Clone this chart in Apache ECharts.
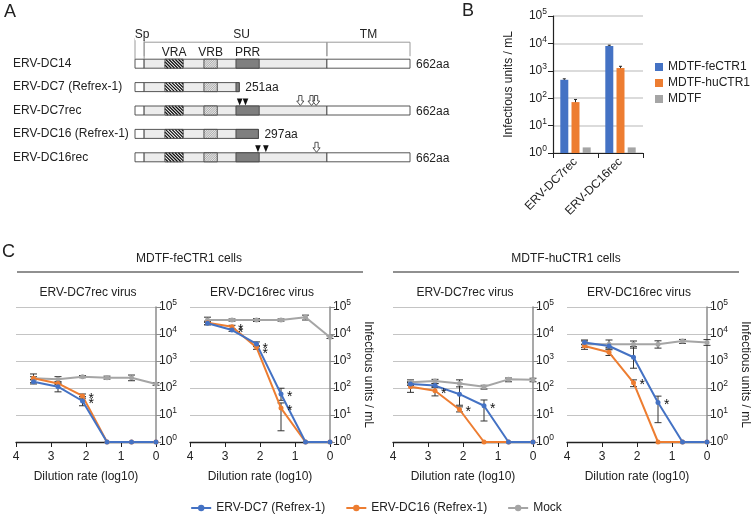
<!DOCTYPE html>
<html><head><meta charset="utf-8">
<script src="https://cdn.jsdelivr.net/npm/echarts@6/dist/echarts.min.js"></script>
<style>html,body{margin:0;padding:0;background:#fff}#c{width:752px;height:515px}</style>
</head><body><div id="c"></div>
<script>
// ================= Panel A data =================
const constructs = ['ERV-DC14', 'ERV-DC7 (Refrex-1)', 'ERV-DC7rec', 'ERV-DC16 (Refrex-1)', 'ERV-DC16rec'];
const constructLengths = [662, 251, 662, 297, 662];
const baseDomainNames = ['Sp', 'SU', 'TM'];
const baseDomainStart = [0, 22, 462];
const baseDomainEnd = [22, 462, 662];
const subDomainNames = ['VRA', 'VRB', 'PRR'];
const subDomainStart = [72, 166, 243];
const subDomainEnd = [116, 198, 299];
const triangleRows = [2, 2, 4, 4];
const trianglePos = [252, 266, 296, 315];
const arrowRows = [2, 2, 2, 4];
const arrowPos = [398, 425, 436, 437];

// ================= Panel B data =================
const bCategories = ['ERV-DC7rec', 'ERV-DC16rec'];
const bSeriesNames = ['MDTF-feCTR1', 'MDTF-huCTR1', 'MDTF'];
const bFeCTR1 = [470, 8100];
const bHuCTR1 = [72, 1260];
const bMDTF = [1.6, 1.6];
const bFeCTR1Err = [[430, 510], [7600, 8600]];
const bHuCTR1Err = [[56, 90], [1080, 1460]];

// ================= Panel C data =================
const dilution = [3.5, 2.8, 2.1, 1.4, 0.7, 0];
const cSeriesNames = ['ERV-DC7 (Refrex-1)', 'ERV-DC16 (Refrex-1)', 'Mock'];
const cGroupTitles = ['MDTF-feCTR1 cells', 'MDTF-huCTR1 cells'];
const cChartTitles = ['ERV-DC7rec virus', 'ERV-DC16rec virus', 'ERV-DC7rec virus', 'ERV-DC16rec virus'];

// chart 1: MDTF-feCTR1, ERV-DC7rec
const c1DC7 = [170, 112, 33, 1, 1, 1];
const c1DC16 = [229, 148, 51, 1, 1, 1];
const c1Mock = [229, 209, 263, 240, 240, 141];
const c1DC7Err = [[141, 209], [72, 148], [22, 48], null, null, null];
const c1DC16Err = [[200, 262], [135, 165], [42, 60], null, null, null];
const c1MockErr = [[158, 331], [170, 263], [240, 288], [214, 275], [186, 302], [126, 158]];
const c1Stars = [[2.1, 51], [2.1, 33]];

// chart 2: MDTF-feCTR1, ERV-DC16rec
const c2DC7 = [25000, 14000, 4300, 60, 1, 1];
const c2DC16 = [26000, 18600, 3200, 18, 1, 1];
const c2Mock = [33000, 33000, 33000, 33000, 42000, 7600];
const c2DC7Err = [[22000, 28000], [12500, 15500], [3400, 5100], [35, 98], null, null];
const c2DC16Err = [[22000, 30000], [15000, 21000], [2700, 3700], [2.6, 28], null, null];
const c2MockErr = [[27000, 42000], [30000, 36000], [29000, 37000], [30000, 36000], [33000, 50000], [6800, 8500]];
const c2Stars = [[2.8, 18600], [2.8, 14000], [2.1, 3700], [2.1, 2400], [1.4, 60], [1.4, 18]];

// chart 3: MDTF-huCTR1, ERV-DC7rec
const c3DC7 = [141, 123, 59, 22, 1, 1];
const c3DC16 = [112, 79, 16, 1, 1, 1];
const c3Mock = [162, 182, 148, 112, 209, 200];
const c3DC7Err = [[125, 160], [105, 145], [23, 148], [6, 36], null, null];
const c3DC16Err = [[69, 170], [51, 112], [13, 20], null, null, null];
const c3MockErr = [[141, 200], [148, 209], [110, 200], [91, 126], [170, 234], [170, 230]];
const c3Stars = [[2.8, 79], [2.1, 16], [1.4, 22]];

// chart 4: MDTF-huCTR1, ERV-DC16rec
const c4DC7 = [4800, 3600, 1380, 29, 1, 1];
const c4DC16 = [3600, 2100, 158, 1, 1, 1];
const c4Mock = [4200, 4200, 4200, 4200, 5500, 4800];
const c4DC7Err = [[4200, 5500], [3200, 4100], [540, 3400], [5.2, 50], null, null];
const c4DC16Err = [[3200, 4000], [1600, 2600], [112, 200], null, null, null];
const c4MockErr = [[2700, 6000], [2800, 6000], [3000, 5500], [3000, 5600], [4500, 6300], [3800, 6200]];
const c4Stars = [[2.1, 158], [1.4, 29]];

// ================= build =================
const FONT = '"Liberation Sans", Arial, sans-serif';
const TXT = '#222';
const FS = 12;
const BLUE = '#4472C4', ORANGE = '#ED7D31', GRAY = '#A5A5A5';
const supFmt = v => '10{s|' + Math.round(Math.log10(v)) + '}';
const supRich = { s: { fontSize: 8.5, padding: [0, 0, 8, 0], fontFamily: FONT, color: TXT } };

const chart = echarts.init(document.getElementById('c'), null, { renderer: 'canvas' });

const grids = [], xAxes = [], yAxes = [], series = [], graphics = [];

// ---- Panel A ----
grids.push({ left: 135, top: 52, width: 275, height: 117, outerBoundsMode: 'none' });
xAxes.push({ gridIndex: 0, type: 'value', min: 0, max: 662, show: false });
yAxes.push({ gridIndex: 0, type: 'category', data: constructs, inverse: true,
  axisLine: { show: false }, axisTick: { show: false }, splitLine: { show: false },
  axisLabel: { align: 'left', margin: 122, fontSize: FS, color: TXT, fontFamily: FONT } });

const kindFill = { Sp: '#ffffff', SU: '#ececec', TM: '#ffffff', VRA: '#ffffff', VRB: '#f2f2f2', PRR: '#7f7f7f' };
const segKinds = [];
const segData = [];
constructs.forEach((n, r) => {
  const L = constructLengths[r];
  baseDomainNames.forEach((d, k) => {
    if (baseDomainStart[k] < L) { segData.push([r, baseDomainStart[k], Math.min(baseDomainEnd[k], L)]); segKinds.push(d); }
  });
  subDomainNames.forEach((d, k) => {
    if (subDomainStart[k] < L) { segData.push([r, subDomainStart[k], Math.min(subDomainEnd[k], L)]); segKinds.push(d); }
  });
});
const BAR_H = 9;
function hatch(x0, x1, y0, y1, step, dir, color, w) {
  const h = y1 - y0, out = [];
  for (let x = x0 - h; x < x1; x += step) {
    let ax, ay, bx, by;
    if (dir > 0) {
      ax = x; ay = y0; bx = x + h; by = y1;
      if (ax < x0) { ay = y0 + (x0 - ax); ax = x0; }
      if (bx > x1) { by = y0 + (x1 - x); bx = x1; }
    } else {
      ax = x; ay = y1; bx = x + h; by = y0;
      if (ax < x0) { ay = y1 - (x0 - ax); ax = x0; }
      if (bx > x1) { by = y1 - (x1 - x); bx = x1; }
    }
    if (bx > ax) out.push({ type: 'line', shape: { x1: ax, y1: ay, x2: bx, y2: by }, style: { stroke: color, lineWidth: w } });
  }
  return out;
}
series.push({ type: 'custom', xAxisIndex: 0, yAxisIndex: 0, clip: false, data: segData,
  encode: { x: [1, 2], y: 0 },
  renderItem: (params, api) => {
    const kind = segKinds[params.dataIndex];
    const r = api.value(0);
    const p0 = api.coord([api.value(1), r]), p1 = api.coord([api.value(2), r]);
    const x0 = p0[0], x1 = p1[0], y0 = p0[1] - BAR_H / 2, y1 = p0[1] + BAR_H / 2;
    let children = [{ type: 'rect', shape: { x: x0, y: y0, width: x1 - x0, height: BAR_H }, style: { fill: kindFill[kind], stroke: 'none' } }];
    if (kind === 'VRA') children = children.concat(hatch(x0, x1, y0, y1, 3.2, 1, '#111', 1.3));
    if (kind === 'VRB') children = children.concat(hatch(x0, x1, y0, y1, 1.8, -1, '#7a7a7a', 0.6));
    children.push({ type: 'rect', shape: { x: x0, y: y0, width: x1 - x0, height: BAR_H }, style: { fill: 'none', stroke: '#444', lineWidth: 0.9 } });
    return { type: 'group', children };
  } });
series.push({ type: 'custom', xAxisIndex: 0, yAxisIndex: 0, clip: false,
  data: constructLengths.map((L, r) => [r, L]), encode: { x: 1, y: 0 },
  renderItem: (params, api) => {
    const p = api.coord([api.value(1), api.value(0)]);
    return { type: 'text', x: p[0] + 6, y: p[1] + 1, style: { text: api.value(1) + 'aa', fontSize: FS, fill: TXT, fontFamily: FONT, align: 'left', verticalAlign: 'middle' } };
  } });
const bracketData = baseDomainNames.map((d, k) => [0, baseDomainStart[k], baseDomainEnd[k], k]);
series.push({ type: 'custom', xAxisIndex: 0, yAxisIndex: 0, clip: false, data: bracketData, encode: { x: [1, 2], y: 0 },
  renderItem: (params, api) => {
    const k = api.value(3);
    const p0 = api.coord([api.value(1), 0]), p1 = api.coord([api.value(2), 0]);
    const barTop = p0[1] - BAR_H / 2;
    const top = barTop - (k === 0 ? 21 : 17);
    const bottom = barTop - (k === 0 ? 0 : 3);
    const lx = k === 0 ? p0[0] + 7 : (k === 1 ? (p0[0] + p1[0]) / 2 + 6 : (p0[0] + p1[0]) / 2);
    const ly = k === 0 ? top + 2 : top - 2;
    return { type: 'group', children: [
      { type: 'polyline', shape: { points: [[p0[0], bottom], [p0[0], top], [p1[0], top], [p1[0], bottom]] }, style: { stroke: '#9a9a9a', lineWidth: 1, fill: 'none' } },
      { type: 'text', x: lx, y: ly, style: { text: baseDomainNames[k], fontSize: FS, fill: TXT, fontFamily: FONT, align: 'center', verticalAlign: 'bottom', backgroundColor: k === 0 ? '#fff' : 'transparent' } }
    ] };
  } });
series.push({ type: 'custom', xAxisIndex: 0, yAxisIndex: 0, clip: false,
  data: subDomainNames.map((d, k) => [0, subDomainStart[k], subDomainEnd[k], k]), encode: { x: [1, 2], y: 0 },
  renderItem: (params, api) => {
    const p0 = api.coord([api.value(1), 0]), p1 = api.coord([api.value(2), 0]);
    const barTop = p0[1] - BAR_H / 2;
    return { type: 'text', x: (p0[0] + p1[0]) / 2, y: barTop - 1, style: { text: subDomainNames[api.value(3)], fontSize: FS, fill: TXT, fontFamily: FONT, align: 'center', verticalAlign: 'bottom' } };
  } });
series.push({ type: 'custom', xAxisIndex: 0, yAxisIndex: 0, clip: false,
  data: trianglePos.map((a, i) => [triangleRows[i], a]), encode: { x: 1, y: 0 },
  renderItem: (params, api) => {
    const p = api.coord([api.value(1), api.value(0)]);
    const t = p[1] - BAR_H / 2 - 0.5;
    return { type: 'polygon', shape: { points: [[p[0] - 2.8, t - 7], [p[0] + 2.8, t - 7], [p[0], t]] }, style: { fill: '#111' } };
  } });
series.push({ type: 'custom', xAxisIndex: 0, yAxisIndex: 0, clip: false,
  data: arrowPos.map((a, i) => [arrowRows[i], a]), encode: { x: 1, y: 0 },
  renderItem: (params, api) => {
    const p = api.coord([api.value(1), api.value(0)]);
    const t = p[1] - BAR_H / 2 - 0.5, x = p[0];
    return { type: 'polygon', shape: { points: [[x - 1.6, t - 10], [x + 1.6, t - 10], [x + 1.6, t - 4.5], [x + 3.6, t - 4.5], [x, t], [x - 3.6, t - 4.5], [x - 1.6, t - 4.5]] },
      style: { fill: '#fff', stroke: '#444', lineWidth: 0.9 } };
  } });

// ---- Panel B ----
grids.push({ left: 553, top: 16, width: 90, height: 137, outerBoundsMode: 'none' });
xAxes.push({ gridIndex: 1, type: 'category', data: bCategories,
  axisLine: { show: true, lineStyle: { color: '#222', width: 1.2 } },
  axisTick: { show: true, alignWithLabel: false, length: 5, lineStyle: { color: '#222' } },
  axisLabel: { rotate: 45, fontSize: FS, color: TXT, fontFamily: FONT, margin: 7 } });
yAxes.push({ gridIndex: 1, type: 'log', logBase: 10, min: 1, max: 100000,
  axisLine: { show: true, lineStyle: { color: '#222', width: 1.2 } },
  axisTick: { show: true, length: 5, lineStyle: { color: '#222' } },
  axisLabel: { formatter: supFmt, rich: supRich, fontSize: FS, color: TXT, fontFamily: FONT, margin: 6 },
  splitLine: { show: true, lineStyle: { color: '#cfcfcf', width: 1.6 } },
  name: 'Infectious units / mL', nameLocation: 'middle', nameGap: 38,
  nameTextStyle: { fontSize: FS, color: TXT, fontFamily: FONT } });
const bVals = [bFeCTR1, bHuCTR1, bMDTF];
const bCols = [BLUE, ORANGE, GRAY];
bVals.forEach((vals, s) => {
  series.push({ type: 'bar', name: bSeriesNames[s], xAxisIndex: 1, yAxisIndex: 1, data: vals,
    barWidth: 8, barGap: '40%', itemStyle: { color: bCols[s] } });
});
const bErrData = [];
[bFeCTR1Err, bHuCTR1Err].forEach((arr, s) => arr.forEach((e, c) => { if (e) bErrData.push([c, e[0], e[1], s]); }));
series.push({ type: 'custom', xAxisIndex: 1, yAxisIndex: 1, clip: false, data: bErrData, encode: { x: 0, y: [1, 2] },
  renderItem: (params, api) => {
    const off = (api.value(3) - 1) * 11.2;
    const lo = api.coord([api.value(0), api.value(1)]), hi = api.coord([api.value(0), api.value(2)]);
    const x = lo[0] + off, w = 1.5;
    const st = { stroke: '#222', lineWidth: 1 };
    return { type: 'group', children: [
      { type: 'line', shape: { x1: x, y1: lo[1], x2: x, y2: hi[1] }, style: st },
      { type: 'line', shape: { x1: x - w, y1: lo[1], x2: x + w, y2: lo[1] }, style: st },
      { type: 'line', shape: { x1: x - w, y1: hi[1], x2: x + w, y2: hi[1] }, style: st }
    ] };
  } });

// ---- Panel C ----
const cLefts = [16, 190, 393, 567];
const C_TOP = 307, C_W = 140, C_H = 135;
const cData = [
  [c1DC7, c1DC16, c1Mock, c1DC7Err, c1DC16Err, c1MockErr, c1Stars],
  [c2DC7, c2DC16, c2Mock, c2DC7Err, c2DC16Err, c2MockErr, c2Stars],
  [c3DC7, c3DC16, c3Mock, c3DC7Err, c3DC16Err, c3MockErr, c3Stars],
  [c4DC7, c4DC16, c4Mock, c4DC7Err, c4DC16Err, c4MockErr, c4Stars]
];
const cCols = [BLUE, ORANGE, GRAY];
cData.forEach((cd, i) => {
  const gi = 2 + i;
  grids.push({ left: cLefts[i], top: C_TOP, width: C_W, height: C_H, outerBoundsMode: 'none' });
  xAxes.push({ gridIndex: gi, type: 'value', min: 0, max: 4, interval: 1, inverse: true,
    axisLine: { show: true, onZero: false, lineStyle: { color: '#222', width: 1.3 } },
    axisTick: { show: true, length: 5, lineStyle: { color: '#222' } },
    axisLabel: { fontSize: FS, color: TXT, fontFamily: FONT, margin: 9 },
    splitLine: { show: false },
    name: 'Dilution rate (log10)', nameLocation: 'middle', nameGap: 29,
    nameTextStyle: { fontSize: FS, color: TXT, fontFamily: FONT } });
  yAxes.push({ gridIndex: gi, type: 'log', logBase: 10, min: 1, max: 100000, position: 'right',
    axisLine: { show: true, onZero: false, lineStyle: { color: '#8c8c8c', width: 1.5 } },
    axisTick: { show: true, length: 5, lineStyle: { color: '#8c8c8c' } },
    axisLabel: { formatter: supFmt, rich: supRich, fontSize: FS, color: TXT, fontFamily: FONT, margin: 3 },
    splitLine: { show: true, lineStyle: { color: '#c4c4c4', width: 1 } },
    name: (i % 2 === 1) ? 'Infectious units / mL' : '', nameLocation: 'middle', nameRotate: -90, nameGap: 32,
    nameTextStyle: { fontSize: FS, color: TXT, fontFamily: FONT } });
  const errData = [];
  [cd[3], cd[4], cd[5]].forEach(arr => arr.forEach((e, k) => { if (e) errData.push([dilution[k], e[0], e[1]]); }));
  series.push({ type: 'custom', xAxisIndex: gi, yAxisIndex: gi, clip: false, data: errData, encode: { x: 0, y: [1, 2] }, z: 3,
    renderItem: (params, api) => {
      const lo = api.coord([api.value(0), api.value(1)]), hi = api.coord([api.value(0), api.value(2)]);
      const x = lo[0], w = 3.5, st = { stroke: '#333', lineWidth: 1 };
      return { type: 'group', children: [
        { type: 'line', shape: { x1: x, y1: lo[1], x2: x, y2: hi[1] }, style: st },
        { type: 'line', shape: { x1: x - w, y1: lo[1], x2: x + w, y2: lo[1] }, style: st },
        { type: 'line', shape: { x1: x - w, y1: hi[1], x2: x + w, y2: hi[1] }, style: st }
      ] };
    } });
  [2, 1, 0].forEach(s => {
    series.push({ type: 'line', name: cSeriesNames[s], xAxisIndex: gi, yAxisIndex: gi,
      data: cd[s].map((v, k) => [dilution[k], v]), symbol: 'circle', symbolSize: 5, z: 4,
      lineStyle: { color: cCols[s], width: 2 }, itemStyle: { color: cCols[s] }, emphasis: { disabled: true } });
  });
  series.push({ type: 'custom', xAxisIndex: gi, yAxisIndex: gi, clip: false, data: cd[6], encode: { x: 0, y: 1 }, z: 5,
    renderItem: (params, api) => {
      const p = api.coord([api.value(0), api.value(1)]);
      return { type: 'text', x: p[0] + 6, y: p[1] + 3, style: { text: '*', fontSize: 14, fill: '#111', fontFamily: FONT, align: 'left', verticalAlign: 'middle' } };
    } });
  graphics.push({ type: 'text', x: cLefts[i] + C_W / 2 + 2, y: 293, style: { text: cChartTitles[i], fontSize: FS, fill: TXT, fontFamily: FONT, align: 'center', verticalAlign: 'middle' } });
});

const groupSpans = [[17, 363], [393, 739]];
groupSpans.forEach((sp, g) => {
  graphics.push({ type: 'text', x: (g === 0 ? 189 : 566), y: 259, style: { text: cGroupTitles[g], fontSize: FS, fill: TXT, fontFamily: FONT, align: 'center', verticalAlign: 'middle' } });
  graphics.push({ type: 'line', shape: { x1: sp[0], y1: 272, x2: sp[1], y2: 272 }, style: { stroke: '#222', lineWidth: 1.2 } });
});
[['A', 4, 12], ['B', 462, 11], ['C', 2, 252]].forEach(l => {
  graphics.push({ type: 'text', x: l[1], y: l[2], style: { text: l[0], fontSize: 18, fill: TXT, fontFamily: FONT, align: 'left', verticalAlign: 'middle' } });
});

const option = {
  animation: false,
  backgroundColor: '#fff',
  textStyle: { fontFamily: FONT },
  grid: grids, xAxis: xAxes, yAxis: yAxes, series,
  legend: [
    { orient: 'vertical', left: 650, top: 56, itemWidth: 8, itemHeight: 8, itemGap: 4, icon: 'rect',
      data: bSeriesNames, selectedMode: false, textStyle: { fontSize: FS, color: TXT, fontFamily: FONT } },
    { orient: 'horizontal', left: 'center', top: 497, itemWidth: 20, itemHeight: 8, itemGap: 20,
      data: cSeriesNames, selectedMode: false, textStyle: { fontSize: FS, color: TXT, fontFamily: FONT } }
  ],
  graphic: graphics
};
chart.setOption(option);
</script></body></html>
